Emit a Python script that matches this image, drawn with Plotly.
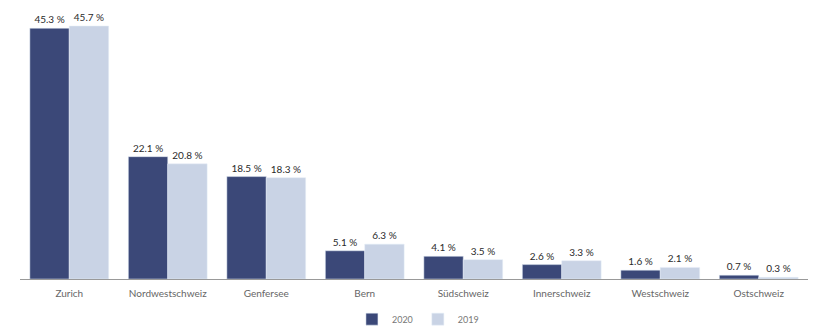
import plotly.graph_objects as go

regions = ["Zurich", "Nordwestschweiz", "Genfersee", "Bern",
           "Südschweiz", "Innerschweiz", "Westschweiz", "Ostschweiz"]
share_2020 = [45.3, 22.1, 18.5, 5.1, 4.1, 2.6, 1.6, 0.7]
share_2019 = [45.7, 20.8, 18.3, 6.3, 3.5, 3.3, 2.1, 0.3]

fig = go.Figure()
fig.add_trace(go.Bar(
    x=regions, y=share_2020, name="2020",
    marker=dict(color="#3b4878"),
    text=[f"{v:.1f} %" for v in share_2020],
    textposition="outside", cliponaxis=False,
    textfont=dict(size=10, color="#2a2a2a", family="Lato"),
))
fig.add_trace(go.Bar(
    x=regions, y=share_2019, name="2019",
    marker=dict(color="#c9d3e5"),
    text=[f"{v:.1f} %" for v in share_2019],
    textposition="outside", cliponaxis=False,
    textfont=dict(size=10, color="#2a2a2a", family="Lato"),
))

fig.update_layout(
    width=822, height=329,
    margin=dict(l=20, r=14, t=0, b=50, autoexpand=False),
    paper_bgcolor="white", plot_bgcolor="white",
    barmode="group", bargap=0.2, bargroupgap=0,
    font=dict(family="Lato", size=10, color="#666666"),
    showlegend=True,
    legend=dict(orientation="h", x=0.505, xanchor="center",
                yref="container", y=0.03, yanchor="middle",
                font=dict(size=9, color="#777777"), itemwidth=30,
                traceorder="normal"),
    xaxis=dict(showline=True, linecolor="#999999", linewidth=1,
               ticks="outside", ticklen=5, tickcolor="rgba(0,0,0,0)",
               tickfont=dict(size=10, color="#666666")),
    yaxis=dict(visible=False, range=[0, 50.4], showgrid=False),
)

fig.write_html("out.html")
